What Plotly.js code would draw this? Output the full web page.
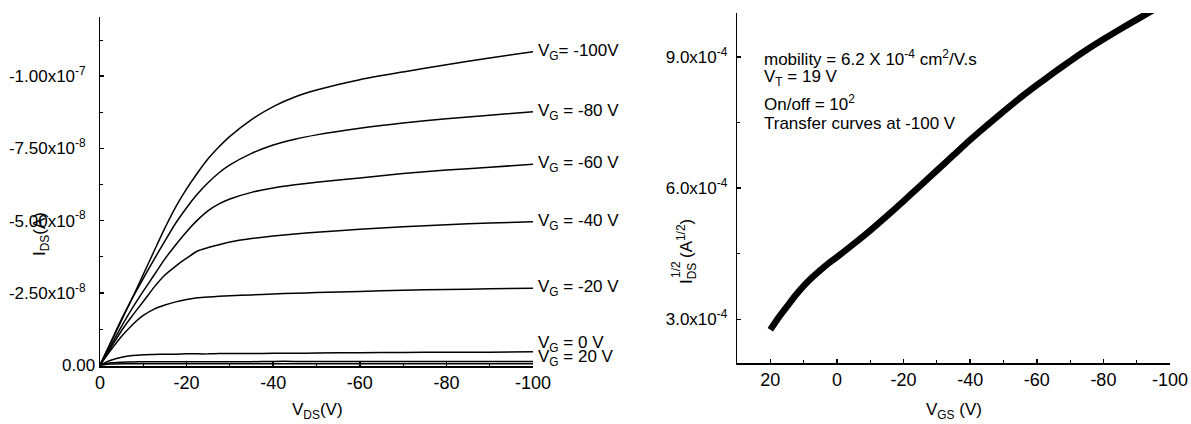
<!DOCTYPE html>
<html><head><meta charset="utf-8">
<script src="https://cdn.plot.ly/plotly-3.0.1.min.js"></script>
<style>html,body{margin:0;padding:0;background:#fff}#chart{width:1191px;height:424px}</style>
</head><body><div id="chart"></div>
<script>
// Output curves: drain voltage (V) and drain current (units of 1e-8 A)
const vds = [0, -2.5, -5, -7.5, -10, -12.5, -15, -17.5, -20, -22.5, -25, -27.5, -30, -35, -40, -45, -50, -60, -70, -80, -90, -100];
const idVgM100 = [0, -0.78, -1.56, -2.34, -3.14, -3.95, -4.75, -5.48, -6.1, -6.65, -7.15, -7.56, -7.92, -8.5, -8.95, -9.28, -9.52, -9.88, -10.15, -10.4, -10.63, -10.85];
const idVgM80  = [0, -0.8, -1.6, -2.33, -3.0, -3.66, -4.3, -4.92, -5.45, -5.92, -6.32, -6.66, -6.93, -7.33, -7.62, -7.82, -7.97, -8.2, -8.38, -8.53, -8.65, -8.77];
const idVgM60  = [0, -0.68, -1.35, -1.98, -2.56, -3.12, -3.68, -4.17, -4.62, -5.02, -5.35, -5.58, -5.75, -5.98, -6.13, -6.24, -6.33, -6.48, -6.63, -6.75, -6.85, -6.95];
const idVgM40  = [0, -0.6, -1.2, -1.72, -2.2, -2.7, -3.12, -3.43, -3.7, -3.95, -4.07, -4.17, -4.26, -4.38, -4.47, -4.54, -4.6, -4.7, -4.79, -4.86, -4.92, -4.96];
const idVgM20  = [0, -0.52, -1.0, -1.4, -1.72, -1.94, -2.08, -2.19, -2.27, -2.33, -2.36, -2.38, -2.4, -2.43, -2.46, -2.49, -2.51, -2.55, -2.59, -2.62, -2.64, -2.66];
const idVg0    = [0, -0.17, -0.27, -0.33, -0.36, -0.37, -0.38, -0.38, -0.39, -0.39, -0.39, -0.4, -0.4, -0.4, -0.41, -0.41, -0.42, -0.43, -0.44, -0.45, -0.45, -0.46];
const idVg20a  = [0, -0.08, -0.1, -0.11, -0.12, -0.12, -0.12, -0.12, -0.12, -0.12, -0.12, -0.12, -0.12, -0.12, -0.13, -0.13, -0.13, -0.13, -0.13, -0.13, -0.13, -0.13];
const idVg20b  = [0, -0.04, -0.05, -0.05, -0.05, -0.05, -0.05, -0.05, -0.05, -0.05, -0.05, -0.05, -0.05, -0.05, -0.05, -0.05, -0.05, -0.05, -0.05, -0.05, -0.05, -0.05];
const outputLabels = ["V<sub>G</sub>= -100V", "V<sub>G</sub> = -80 V", "V<sub>G</sub> = -60 V", "V<sub>G</sub> = -40 V", "V<sub>G</sub> = -20 V", "V<sub>G</sub> = 0 V", "V<sub>G</sub> = 20 V"];

// Transfer curve: gate voltage (V) and sqrt(I_DS) (units of 1e-4 A^1/2)
const vgs = [20, 17.5, 15, 12.5, 10, 7.5, 5, 2.5, 0, -5, -10, -15, -20, -25, -30, -35, -40, -45, -50, -55, -60, -65, -70, -75, -80, -85, -90, -95];
const sqrtIds = [2.76, 3.04, 3.29, 3.54, 3.76, 3.95, 4.12, 4.28, 4.42, 4.72, 5.03, 5.36, 5.7, 6.05, 6.4, 6.75, 7.1, 7.43, 7.75, 8.06, 8.35, 8.63, 8.9, 9.16, 9.4, 9.63, 9.85, 10.07];

// Tick labels
const xTicksLeft = [0, -20, -40, -60, -80, -100];
const xTickTextLeft = ["0", "-20", "-40", "-60", "-80", "-100"];
const xMinorLeft = [-10, -30, -50, -70, -90];
const yTicksLeft = [0, -2.5, -5, -7.5, -10];
const yTickTextLeft = ["0.00", "-2.50x10<sup>-8</sup>", "-5.00x10<sup>-8</sup>", "-7.50x10<sup>-8</sup>", "-1.00x10<sup>-7</sup>"];
const yMinorLeft = [-1.25, -3.75, -6.25, -8.75, -11.25];
const xTicksRight = [20, 0, -20, -40, -60, -80, -100];
const xTickTextRight = ["20", "0", "-20", "-40", "-60", "-80", "-100"];
const xMinorRight = [30, 10, -10, -30, -50, -70, -90];
const yTicksRight = [3, 6, 9];
const yTickTextRight = ["3.0x10<sup>-4</sup>", "6.0x10<sup>-4</sup>", "9.0x10<sup>-4</sup>"];
const yMinorRight = [4.5, 7.5];

const FONT = "'Liberation Sans', Arial, sans-serif";
const NB = "\u00a0\u00a0";
const series = [idVgM100, idVgM80, idVgM60, idVgM40, idVgM20, idVg0, idVg20a];

const traces = [];
[idVgM100, idVgM80, idVgM60, idVgM40, idVgM20, idVg0, idVg20a, idVg20b].forEach(s => {
  traces.push({x: vds, y: s, type: 'scatter', mode: 'lines', xaxis: 'x', yaxis: 'y',
    line: {color: '#000', width: 1.5, shape: 'spline', smoothing: 0.6}, hoverinfo: 'skip'});
});
traces.push({x: vgs, y: sqrtIds, type: 'scatter', mode: 'lines', xaxis: 'x2', yaxis: 'y2',
  line: {color: '#000', width: 6.5, shape: 'spline', smoothing: 0.5}, hoverinfo: 'skip'});

const axBase = {showline: true, linecolor: '#000', linewidth: 1.5, showgrid: false, zeroline: false,
  ticks: 'inside', ticklen: 4, tickwidth: 1.5, tickcolor: '#000', tickmode: 'array',
  tickfont: {family: FONT, size: 17, color: '#000'}, fixedrange: true};
const xFont = {family: FONT, size: 18, color: '#000'};

const W = 1191, H = 424;
const px = v => v / W, py = v => (H - v) / H;

const annotations = [];
const yShifts = [0, 0, 0, 0, 0, 8, 3];
outputLabels.forEach((t, i) => {
  const s = series[i];
  annotations.push({xref: 'x', yref: 'y', x: -100, y: s[s.length - 1], text: t, showarrow: false,
    xanchor: 'left', yanchor: 'middle', xshift: 3, yshift: yShifts[i], font: {family: FONT, size: 17, color: '#000'}});
});
const txt = (t, x, y, opts) => Object.assign({xref: 'paper', yref: 'paper', x: px(x), y: py(y), text: t, showarrow: false,
  xanchor: 'center', yanchor: 'middle', font: {family: FONT, size: 17, color: '#000'}}, opts || {});
annotations.push(txt("I<sub>DS</sub>(A)", 41, 234, {textangle: -90}));
annotations.push(txt("V<sub>DS</sub>(V)", 317, 411));
annotations.push(txt("V<sub>GS</sub> (V)", 954, 411));
annotations.push(txt("I<sub>DS</sub> (A<sup>1/2</sup>)", 686, 252, {textangle: -90}));
annotations.push(txt("1/2", 676, 270, {textangle: -90, font: {family: FONT, size: 12, color: '#000'}}));
annotations.push(txt("mobility = 6.2 X 10<sup>-4</sup> cm<sup>2</sup>/V.s", 762, 58, {xanchor: 'left'}));
annotations.push(txt("V<sub>T</sub> = 19 V", 762, 78, {xanchor: 'left'}));
annotations.push(txt("On/off = 10<sup>2</sup>", 762, 103, {xanchor: 'left'}));
annotations.push(txt("Transfer curves at -100 V", 762, 123, {xanchor: 'left'}));

const minorOf = vals => ({tickmode: 'array', tickvals: vals, ticks: 'inside', ticklen: 3, tickwidth: 1, tickcolor: '#000'});

const layout = {
  width: W, height: H, margin: {l: 0, r: 0, t: 0, b: 0}, showlegend: false,
  paper_bgcolor: '#fff', plot_bgcolor: '#fff',
  xaxis: Object.assign({}, axBase, {domain: [px(100), px(533)], anchor: 'y', range: [0, -100],
    tickfont: xFont, tickvals: xTicksLeft, ticktext: xTickTextLeft, minor: minorOf(xMinorLeft)}),
  yaxis: Object.assign({}, axBase, {domain: [py(366), py(17)], anchor: 'x', range: [0.03, -12.05],
    tickvals: yTicksLeft, ticktext: yTickTextLeft.map((t, i) => i === 0 ? t : t + NB), minor: minorOf(yMinorLeft)}),
  xaxis2: Object.assign({}, axBase, {domain: [px(737), px(1170)], anchor: 'y2', range: [30, -100],
    tickfont: xFont, tickvals: xTicksRight, ticktext: xTickTextRight, minor: minorOf(xMinorRight)}),
  yaxis2: Object.assign({}, axBase, {domain: [py(363), py(13)], anchor: 'x2', range: [2, 10],
    tickvals: yTicksRight, ticktext: yTickTextRight.map(t => t + "\u00a0"), minor: minorOf(yMinorRight)}),
  annotations: annotations
};

Plotly.newPlot('chart', traces, layout, {staticPlot: true, displayModeBar: false});
</script></body></html>
